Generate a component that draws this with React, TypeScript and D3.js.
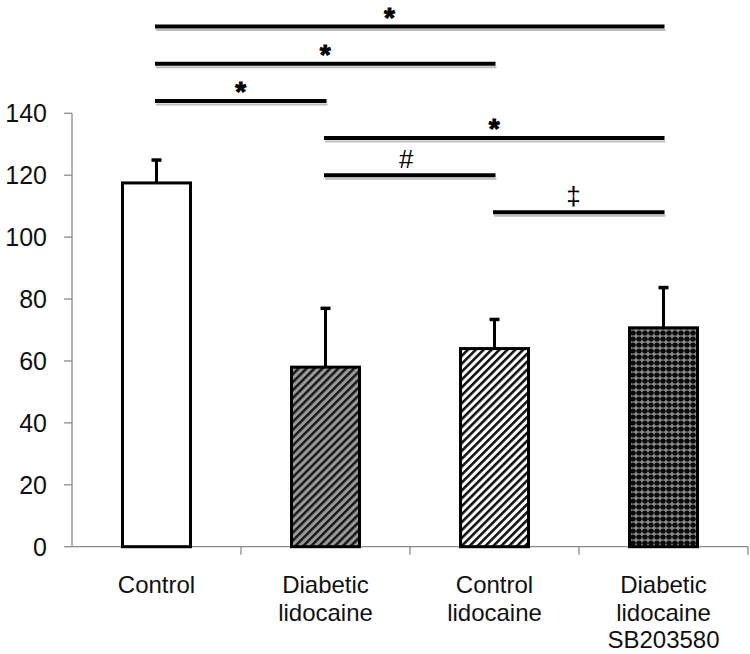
import React from "react";
import * as d3 from "d3";

const categories: string[][] = [
  ["Control"],
  ["Diabetic", "lidocaine"],
  ["Control", "lidocaine"],
  ["Diabetic", "lidocaine", "SB203580"],
];
const means = [117.5, 58, 64, 70.7];
const errors = [7.4, 19, 9.4, 13];
const yTicks = [0, 20, 40, 60, 80, 100, 120, 140];

// significance comparisons
const sigFrom = [0, 0, 0, 1, 1, 2];
const sigTo = [3, 2, 1, 3, 2, 3];
const sigLevel = [168, 156, 144, 132, 120, 108];
const sigSymbol = ["*", "*", "*", "*", "#", "‡"];
const sigLabelFrac = [0.46, 0.5, 0.5, 0.5, 0.48, 0.47];

const W = 750;
const H = 654;
const left = 72;
const right = 748;
const y0 = 546.7;
const yTop = 113.3;

export default function App() {
  const x = d3
    .scaleBand<number>()
    .domain(categories.map((_, i) => i))
    .range([left, right])
    .paddingInner(0)
    .paddingOuter(0);
  const y = d3.scaleLinear().domain([0, 140]).range([y0, yTop]);
  const bw = 68;
  const cx = (i: number) => (x(i) as number) + x.bandwidth() / 2;
  const fills = ["#ffffff", "url(#p2)", "url(#p3)", "url(#p4)"];
  const font = "'Liberation Sans', Arial, sans-serif";
  const boundaries = d3.range(1, categories.length + 1).map((k) => left + k * x.bandwidth());

  return (
    <svg
      width={W}
      height={H}
      style={{ position: "absolute", left: 0, top: 0, background: "#fff" }}
      fontFamily={font}
    >
      <defs>
        <pattern id="p2" width={5.6} height={5.6} patternUnits="userSpaceOnUse" patternTransform="rotate(45)">
          <rect width={5.6} height={5.6} fill="#9a9a9a" />
          <line x1={1.3} y1={0} x2={1.3} y2={5.6} stroke="#111" strokeWidth={2.4} />
        </pattern>
        <pattern id="p3" width={5.6} height={5.6} patternUnits="userSpaceOnUse" patternTransform="rotate(45)">
          <rect width={5.6} height={5.6} fill="#fff" />
          <line x1={1.3} y1={0} x2={1.3} y2={5.6} stroke="#111" strokeWidth={2.6} />
        </pattern>
        <pattern id="p4" width={6} height={6} patternUnits="userSpaceOnUse">
          <rect width={6} height={6} fill="#8c8c8c" />
          <circle cx={3} cy={3} r={2.6} fill="#0a0a0a" />
          <rect x={0} y={2} width={6} height={2} fill="#0a0a0a" opacity={0.4} />
        </pattern>
      </defs>

      {/* axes */}
      <line x1={left} x2={left} y1={yTop} y2={y0} stroke="#8a8a8a" strokeWidth={1.3} />
      <line x1={left} x2={right} y1={y0} y2={y0} stroke="#8a8a8a" strokeWidth={1.3} />
      {yTicks.map((t) => (
        <g key={t}>
          <line x1={left - 8} x2={left} y1={y(t)} y2={y(t)} stroke="#8a8a8a" strokeWidth={1.3} />
          <text x={47} y={y(t)} dy="0.36em" textAnchor="end" fontSize={25} fill="#111">
            {t}
          </text>
        </g>
      ))}
      {boundaries.map((b, i) => (
        <line key={i} x1={b} x2={b} y1={y0} y2={y0 + 8} stroke="#8a8a8a" strokeWidth={1.3} />
      ))}

      {/* bars */}
      {means.map((m, i) => (
        <g key={i}>
          <line x1={cx(i)} x2={cx(i)} y1={y(m)} y2={y(m + errors[i])} stroke="#000" strokeWidth={3} />
          <line x1={cx(i) - 5} x2={cx(i) + 5} y1={y(m + errors[i])} y2={y(m + errors[i])} stroke="#000" strokeWidth={3.5} />
          <rect
            x={cx(i) - bw / 2}
            y={y(m)}
            width={bw}
            height={y0 - y(m)}
            fill={fills[i]}
            stroke="#000"
            strokeWidth={3}
          />
        </g>
      ))}

      {/* category labels */}
      {categories.map((lines, i) => (
        <text key={i} x={cx(i)} y={593} textAnchor="middle" fontSize={24} fill="#111">
          {lines.map((l, j) => (
            <tspan key={j} x={cx(i)} dy={j === 0 ? 0 : 27.5}>
              {l}
            </tspan>
          ))}
        </text>
      ))}

      {/* significance bars */}
      {sigLevel.map((lv, k) => {
        const x1 = cx(sigFrom[k]) - 1.5;
        const x2 = cx(sigTo[k]) + 1;
        const yy = y(lv);
        const lx = x1 + (x2 - x1) * sigLabelFrac[k];
        const sym = sigSymbol[k];
        return (
          <g key={k}>
            <line x1={x1 + 1} x2={x2 + 1} y1={yy + 3.5} y2={yy + 3.5} stroke="#bdbdbd" strokeWidth={2} />
            <line x1={x1} x2={x2} y1={yy} y2={yy} stroke="#000" strokeWidth={4} />
            {sym === "*" ? (
              <text
                x={lx}
                y={yy + 0.2}
                textAnchor="middle"
                fontSize={28}
                fontWeight="bold"
                fill="#000"
                stroke="#000"
                strokeWidth={0.9}
                strokeLinejoin="miter"
              >
                {sym}
              </text>
            ) : (
              <text x={lx} y={yy - 7} textAnchor="middle" fontSize={26} fill="#000">
                {sym}
              </text>
            )}
          </g>
        );
      })}
    </svg>
  );
}
